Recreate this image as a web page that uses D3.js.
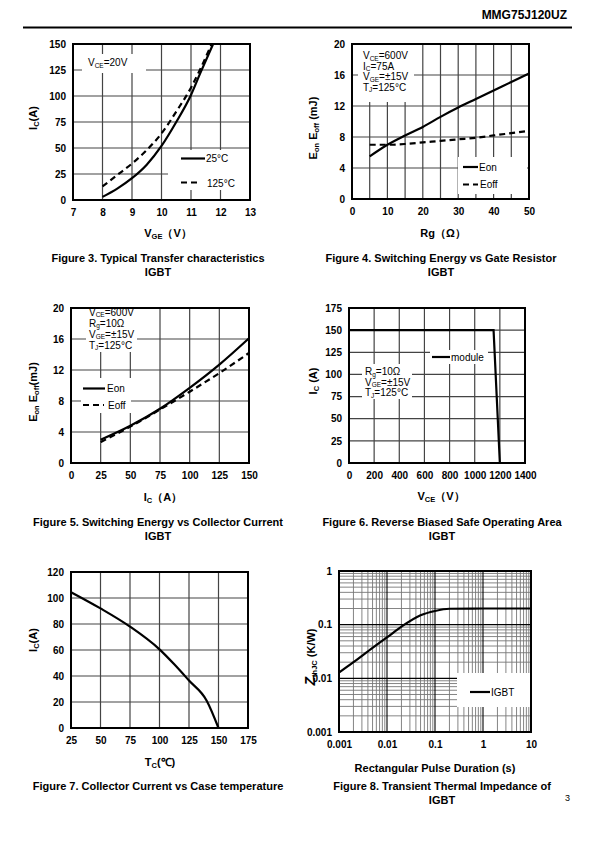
<!DOCTYPE html>
<html><head><meta charset="utf-8">
<script src="https://cdn.jsdelivr.net/npm/d3@7"></script>
<style>body{margin:0;background:#fff} svg{display:block}</style>
</head><body>
<script>
// ---------------- DATA ----------------
// Figure 3: Typical transfer characteristics
const fig3Vge25  = [8, 8.5, 9, 9.5, 10, 10.5, 11, 11.3, 11.75];
const fig3Ic25   = [3, 11, 21, 34, 52, 75, 101, 121, 150];
const fig3Vge125 = [8, 8.5, 9, 9.5, 10, 10.5, 11, 11.3, 11.7];
const fig3Ic125  = [13, 24, 35, 48, 64, 85, 108, 125, 150];
const fig3XTicks = [7, 8, 9, 10, 11, 12, 13];
const fig3YTicks = [0, 25, 50, 75, 100, 125, 150];

// Figure 4: Switching energy vs gate resistor
const fig4Rg   = [5, 10, 15, 20, 25, 30, 35, 40, 45, 50];
const fig4Eon  = [5.5, 7.0, 8.2, 9.3, 10.6, 11.8, 12.9, 14.0, 15.1, 16.2];
const fig4Eoff = [7.0, 7.0, 7.1, 7.3, 7.5, 7.7, 7.9, 8.2, 8.5, 8.8];
const fig4XTicks = [0, 10, 20, 30, 40, 50];
const fig4XGrid  = [5, 10, 15, 20, 25, 30, 35, 40, 45];
const fig4YTicks = [0, 4, 8, 12, 16, 20];

// Figure 5: Switching energy vs collector current
const fig5Ic   = [25, 50, 75, 100, 125, 150];
const fig5Eon  = [3.0, 4.8, 7.0, 9.7, 12.7, 16.1];
const fig5Eoff = [2.7, 4.7, 6.9, 9.2, 11.6, 14.2];
const fig5XTicks = [0, 25, 50, 75, 100, 125, 150];
const fig5YTicks = [0, 4, 8, 12, 16, 20];

// Figure 6: RBSOA
const fig6Vce = [0, 1150, 1200];
const fig6Ic  = [150, 150, 0];
const fig6XTicks = [0, 200, 400, 600, 800, 1000, 1200, 1400];
const fig6YTicks = [0, 25, 50, 75, 100, 125, 150, 175];

// Figure 7: Collector current vs case temperature
const fig7Tc = [25, 50, 75, 100, 112.5, 125, 140, 150];
const fig7Ic = [104.5, 92, 78, 60.5, 49, 36.5, 21, 0];
const fig7XTicks = [25, 50, 75, 100, 125, 150, 175];
const fig7YTicks = [0, 20, 40, 60, 80, 100, 120];

// Figure 8: Transient thermal impedance
const fig8Tp  = [0.001, 0.002, 0.005, 0.01, 0.02, 0.05, 0.1, 0.2, 1, 10];
const fig8Zth = [0.0128, 0.020, 0.037, 0.058, 0.092, 0.150, 0.180, 0.198, 0.200, 0.200];
const fig8XTicks = [0.001, 0.01, 0.1, 1, 10];
const fig8YTicks = [0.001, 0.01, 0.1, 1];

// ---------------- DRAWING ----------------
const FONT = "'Liberation Sans', Arial, Helvetica, sans-serif";
const svg = d3.select("body").append("svg").attr("width", 595).attr("height", 842)
  .style("font-family", FONT);
svg.append("rect").attr("width", 595).attr("height", 842).attr("fill", "#fff");

function rich(t, s, sub, shift) {
  const re = /_\{([^}]*)\}/g; let last = 0, m, pend = 0;
  const add = (txt, isSub) => {
    const ts = t.append("tspan").text(txt);
    if (isSub) { ts.attr("font-size", sub).attr("dy", shift); pend = -shift; }
    else if (pend) { ts.attr("dy", pend); pend = 0; }
  };
  while ((m = re.exec(s))) {
    if (m.index > last) add(s.slice(last, m.index), false);
    add(m[1], true); last = re.lastIndex;
  }
  if (last < s.length) add(s.slice(last), false);
  return t;
}
function label(x, y, s, o = {}) {
  const t = svg.append("text").attr("x", x).attr("y", y)
    .attr("font-size", o.size || 10).attr("font-weight", o.bold ? "bold" : "normal")
    .attr("text-anchor", o.anchor || "start").attr("fill", "#000");
  return rich(t, s, o.sub || 6.5, o.shift || 1.5);
}
function yTitle(x, y, s, size = 11) {
  const t = svg.append("text").attr("transform", `translate(${x},${y}) rotate(-90)`)
    .attr("font-size", size).attr("font-weight", "bold").attr("text-anchor", "middle");
  return rich(t, s, 7.5, 2);
}

function frame(o) {
  const g = svg.append("g");
  const x = (o.xlog ? d3.scaleLog() : d3.scaleLinear()).domain(o.xd).range([o.L, o.R]);
  const y = (o.ylog ? d3.scaleLog() : d3.scaleLinear()).domain(o.yd).range([o.B, o.T]);
  (o.grids || []).forEach(gr => {
    g.append("g").selectAll("line").data(gr.x || []).join("line")
      .attr("x1", d => x(d)).attr("x2", d => x(d)).attr("y1", o.T).attr("y2", o.B)
      .attr("stroke", gr.color).attr("stroke-width", gr.w);
    g.append("g").selectAll("line").data(gr.y || []).join("line")
      .attr("y1", d => y(d)).attr("y2", d => y(d)).attr("x1", o.L).attr("x2", o.R)
      .attr("stroke", gr.color).attr("stroke-width", gr.w);
  });
  (o.boxes || []).forEach(b => g.append("rect").attr("x", b[0]).attr("y", b[1])
    .attr("width", b[2] - b[0]).attr("height", b[3] - b[1]).attr("fill", "#fff"));
  const xa = g.append("g").attr("transform", `translate(0,${o.B})`)
    .call(d3.axisBottom(x).tickValues(o.xTicks).tickSize(0).tickPadding(9).tickFormat(d => String(d)));
  xa.select(".domain").remove();
  const ya = g.append("g").attr("transform", `translate(${o.L},0)`)
    .call(d3.axisLeft(y).tickValues(o.yTicks).tickSize(0).tickPadding(7).tickFormat(d => String(d)));
  ya.select(".domain").remove();
  [xa, ya].forEach(a => a.attr("font-family", FONT).attr("font-size", 10)
    .attr("font-weight", "bold").selectAll("text").attr("fill", "#000"));
  const series = (xs, ys, dash, curve) => {
    const pts = xs.map((v, i) => [v, ys[i]]);
    g.append("path").attr("d", d3.line().x(d => x(d[0])).y(d => y(d[1]))
      .curve(curve || d3.curveMonotoneX)(pts))
      .attr("fill", "none").attr("stroke", "#000").attr("stroke-width", 2.2)
      .attr("stroke-dasharray", dash ? "6,4" : null);
  };
  const finish = () => g.append("rect").attr("x", o.L).attr("y", o.T)
    .attr("width", o.R - o.L).attr("height", o.B - o.T)
    .attr("fill", "none").attr("stroke", "#000").attr("stroke-width", 2);
  return { g, x, y, series, finish };
}
function legendLine(x1, x2, y, dash) {
  svg.append("line").attr("x1", x1).attr("x2", x2).attr("y1", y).attr("y2", y)
    .attr("stroke", "#000").attr("stroke-width", 2.2).attr("stroke-dasharray", dash ? "6,4" : null);
}
const GRID = { color: "#444", w: 1.2 };

// Header
svg.append("text").attr("x", 567).attr("y", 19).attr("text-anchor", "end")
  .attr("font-size", 12).attr("font-weight", "bold").text("MMG75J120UZ");
svg.append("line").attr("x1", 23).attr("x2", 572).attr("y1", 27.5).attr("y2", 27.5)
  .attr("stroke", "#000").attr("stroke-width", 2);

// ---- Figure 3 ----
{
  const f = frame({ L: 73, R: 250, T: 44, B: 200, xd: [7, 13], yd: [0, 150],
    xTicks: fig3XTicks, yTicks: fig3YTicks,
    grids: [{ ...GRID, x: fig3XTicks.slice(1, -1), y: fig3YTicks.slice(1, -1) }],
    boxes: [[82, 54, 146, 73], [168, 150, 249, 190]] });
  f.series(fig3Vge25, fig3Ic25, false);
  f.series(fig3Vge125, fig3Ic125, true);
  f.finish();
  label(88, 66, "V_{CE}=20V");
  legendLine(181, 205, 158.5, false); label(206, 162, "25°C");
  legendLine(181, 201, 182.5, true); label(207, 186.5, "125°C");
  yTitle(37, 118, "I_{C}(A)");
  label(168, 237, "V_{GE}（V）", { bold: true, size: 11, anchor: "middle", sub: 7.5, shift: 2 });
  label(158, 262, "Figure 3. Typical Transfer characteristics", { bold: true, size: 11, anchor: "middle" });
  label(158, 276, "IGBT", { bold: true, size: 11, anchor: "middle" });
}
// ---- Figure 4 ----
{
  const f = frame({ L: 352, R: 529, T: 44, B: 199, xd: [0, 50], yd: [0, 20],
    xTicks: fig4XTicks, yTicks: fig4YTicks,
    grids: [{ ...GRID, x: fig4XGrid, y: fig4YTicks.slice(1, -1) }],
    boxes: [[358, 45, 414, 102], [458, 157, 527, 194]] });
  f.series(fig4Rg, fig4Eon, false);
  f.series(fig4Rg, fig4Eoff, true);
  f.finish();
  ["V_{CE}=600V", "I_{C}=75A", "V_{GE}=±15V", "T_{J}=125°C"].forEach((s, i) => label(363, 59 + i * 10.6, s));
  legendLine(463, 478, 167, false); label(479, 170.5, "Eon");
  legendLine(463, 478, 184.5, true); label(480, 188, "Eoff");
  yTitle(317, 128, "E_{on} E_{off} (mJ)");
  label(443, 237, "Rg（Ω）", { bold: true, size: 11, anchor: "middle" });
  label(441, 262, "Figure 4. Switching Energy vs Gate Resistor", { bold: true, size: 11, anchor: "middle" });
  label(441, 276, "IGBT", { bold: true, size: 11, anchor: "middle" });
}
// ---- Figure 5 ----
{
  const f = frame({ L: 71, R: 249, T: 308, B: 463, xd: [0, 150], yd: [0, 20],
    xTicks: fig5XTicks, yTicks: fig5YTicks,
    grids: [{ ...GRID, x: fig5XTicks.slice(1, -1), y: fig5YTicks.slice(1, -1) }],
    boxes: [[86, 309, 137, 352], [81, 378, 131, 413]] });
  f.series(fig5Ic, fig5Eon, false);
  f.series(fig5Ic, fig5Eoff, true);
  f.finish();
  ["V_{CE}=600V", "R_{g}=10Ω", "V_{GE}=±15V", "T_{J}=125°C"].forEach((s, i) => label(89, 315.5 + i * 11, s));
  legendLine(83, 105, 388.5, false); label(107, 392, "Eon");
  legendLine(83, 104, 405, true); label(108, 409, "Eoff");
  yTitle(37, 392, "E_{on} E_{off}(mJ)");
  label(163, 501, "I_{C}（A）", { bold: true, size: 11, anchor: "middle", sub: 7.5, shift: 2 });
  label(158, 526, "Figure 5. Switching Energy vs Collector Current", { bold: true, size: 11, anchor: "middle" });
  label(158, 540, "IGBT", { bold: true, size: 11, anchor: "middle" });
}
// ---- Figure 6 ----
{
  const f = frame({ L: 349, R: 525, T: 308, B: 463, xd: [0, 1400], yd: [0, 175],
    xTicks: fig6XTicks, yTicks: fig6YTicks,
    grids: [{ ...GRID, x: fig6XTicks.slice(1, -1), y: fig6YTicks.slice(1, -1) }],
    boxes: [[362, 364, 412, 399], [430, 350, 488, 364]] });
  f.series(fig6Vce, fig6Ic, false, d3.curveLinear);
  f.finish();
  ["R_{g}=10Ω", "V_{GE}=±15V", "T_{J}=125°C"].forEach((s, i) => label(365, 375 + i * 10.6, s));
  legendLine(432, 450, 357, false); label(451, 361, "module");
  yTitle(317, 381, "I_{C} (A)");
  label(441, 500, "V_{CE}（V）", { bold: true, size: 11, anchor: "middle", sub: 7.5, shift: 2 });
  label(442, 526, "Figure 6. Reverse Biased Safe Operating Area", { bold: true, size: 11, anchor: "middle" });
  label(442, 540, "IGBT", { bold: true, size: 11, anchor: "middle" });
}
// ---- Figure 7 ----
{
  const f = frame({ L: 71, R: 248, T: 572, B: 728, xd: [25, 175], yd: [0, 120],
    xTicks: fig7XTicks, yTicks: fig7YTicks,
    grids: [{ ...GRID, x: fig7XTicks.slice(1, -1), y: fig7YTicks.slice(1, -1) }] });
  f.series(fig7Tc, fig7Ic, false);
  f.finish();
  yTitle(37, 640, "I_{C}(A)");
  label(160, 766, "T_{C}(℃)", { bold: true, size: 11, anchor: "middle", sub: 7.5, shift: 2 });
  label(158, 790, "Figure 7. Collector Current vs Case temperature", { bold: true, size: 11, anchor: "middle" });
}
// ---- Figure 8 ----
{
  const minorX = [], minorY = [];
  [0.001, 0.01, 0.1, 1].forEach(d => { for (let k = 2; k <= 9; k++) minorX.push(k * d); });
  [0.001, 0.01, 0.1].forEach(d => { for (let k = 2; k <= 9; k++) minorY.push(k * d); });
  const f = frame({ L: 339, R: 531, T: 571, B: 732, xlog: true, ylog: true,
    xd: [0.001, 10], yd: [0.001, 1], xTicks: fig8XTicks, yTicks: fig8YTicks,
    grids: [{ color: "#777", w: 0.9, x: minorX, y: minorY },
            { color: "#000", w: 1.1, x: fig8XTicks.slice(1, -1), y: fig8YTicks.slice(1, -1) }],
    boxes: [[457, 673, 530, 707]] });
  f.series(fig8Tp, fig8Zth, false);
  f.finish();
  legendLine(470, 490, 692, false); label(491, 696, "IGBT");
  const t = svg.append("text").attr("transform", "translate(315,657) rotate(-90)")
    .attr("font-size", 11).attr("font-weight", "bold").attr("text-anchor", "middle");
  t.append("tspan").attr("font-style", "italic").attr("font-size", 14).text("Z");
  t.append("tspan").attr("font-size", 7.5).attr("dy", 2).text("thJC");
  t.append("tspan").attr("dy", -2).text(" (K/W)");
  label(435, 772, "Rectangular Pulse Duration (s)", { bold: true, size: 11, anchor: "middle" });
  label(442, 790, "Figure 8. Transient Thermal Impedance of", { bold: true, size: 11, anchor: "middle" });
  label(442, 804, "IGBT", { bold: true, size: 11, anchor: "middle" });
}
svg.append("text").attr("x", 565).attr("y", 801).attr("font-size", 9).text("3");
</script>
</body></html>
